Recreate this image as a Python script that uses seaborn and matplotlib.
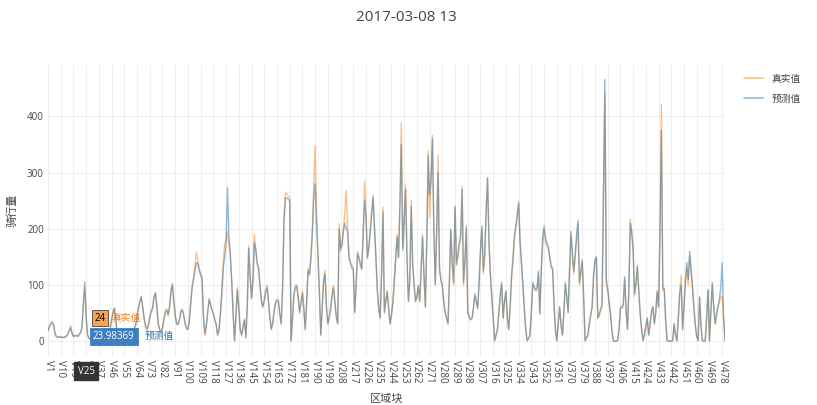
import matplotlib
matplotlib.use("Agg")
import matplotlib.pyplot as plt
import seaborn as sns
import pandas as pd

# values, one per region V1..V480
true_vals = [
    20, 28, 33, 35, 30, 12, 8, 6, 9, 7,
    8, 6, 7, 10, 12, 20, 28, 15, 8, 9,
    10, 8, 12, 15, 24, 60, 95, 40, 10, 5,
    3, 0, 0, 2, 5, 0, 0, 8, 15, 6,
    0, 0, 3, 10, 25, 40, 55, 60, 35, 10,
    5, 0, 0, 12, 18, 10, 4, 0, 0, 6,
    15, 25, 30, 45, 60, 72, 78, 60, 40, 25,
    20, 30, 45, 55, 60, 80, 87, 60, 30, 20,
    15, 25, 40, 55, 58, 45, 60, 90, 103, 70,
    45, 30, 30, 40, 55, 58, 45, 30, 22, 20,
    35, 70, 100, 114, 135, 158, 145, 130, 120, 114,
    40, 10, 25, 50, 76, 65, 55, 50, 40, 30,
    10, 20, 50, 90, 140, 174, 180, 195, 170, 160,
    110, 50, 0, 45, 96, 60, 20, 10, 25, 40,
    5, 60, 170, 120, 75, 110, 190, 160, 140, 130,
    100, 70, 60, 75, 90, 100, 70, 40, 20, 35,
    55, 70, 75, 75, 50, 30, 100, 220, 265, 262,
    258, 255, 0, 40, 85, 100, 100, 80, 50, 70,
    90, 60, 20, 70, 130, 120, 150, 200, 280, 347,
    230, 160, 90, 10, 60, 110, 126, 60, 30, 45,
    60, 85, 100, 70, 45, 30, 209, 160, 175, 200,
    230, 268, 200, 150, 140, 135, 130, 50, 100, 160,
    150, 140, 130, 200, 285, 230, 150, 170, 200, 230,
    260, 200, 150, 90, 60, 40, 120, 238, 50, 70,
    90, 60, 30, 45, 70, 110, 150, 190, 150, 250,
    388, 160, 220, 280, 150, 70, 110, 250, 140, 100,
    70, 80, 100, 70, 130, 190, 120, 60, 180, 338,
    220, 290, 366, 200, 100, 200, 330, 130, 110, 100,
    70, 50, 40, 30, 100, 196, 140, 100, 238, 140,
    150, 170, 180, 276, 100, 140, 200, 50, 45, 40,
    40, 60, 80, 70, 60, 100, 160, 200, 120, 150,
    230, 291, 180, 120, 80, 40, 0, 10, 20, 50,
    80, 100, 40, 70, 90, 40, 20, 60, 110, 140,
    178, 200, 220, 249, 180, 140, 100, 60, 20, 0,
    5, 10, 50, 100, 95, 90, 90, 120, 50, 120,
    170, 200, 185, 175, 170, 150, 135, 130, 70, 20,
    0, 30, 60, 30, 10, 50, 100, 80, 50, 120,
    190, 150, 120, 150, 180, 209, 100, 120, 140, 80,
    0, 5, 10, 30, 45, 60, 120, 140, 149, 40,
    45, 55, 60, 250, 440, 100, 90, 70, 50, 20,
    0, 0, 0, 0, 20, 60, 60, 60, 110, 60,
    20, 90, 217, 190, 170, 80, 100, 130, 90, 50,
    20, 0, 10, 25, 40, 10, 30, 50, 60, 30,
    50, 90, 60, 200, 421, 90, 95, 40, 0, 0,
    0, 0, 0, 30, 10, 0, 40, 90, 117, 20,
    60, 100, 130, 100, 152, 130, 100, 60, 30, 10,
    0, 80, 30, 0, 0, 0, 40, 90, 0, 50,
    100, 60, 30, 45, 60, 70, 80, 80, 40, 0,
]

pred_vals = [
    18, 25, 30, 33, 28, 14, 9, 7, 8, 8,
    7, 7, 8, 9, 13, 18, 24, 14, 9, 10,
    11, 9, 12, 16, 23.98369, 70, 105, 45, 12, 6,
    4, 1, 2, 3, 6, 1, 1, 9, 14, 7,
    2, 1, 4, 11, 22, 38, 50, 58, 38, 12,
    6, 2, 2, 10, 16, 11, 5, 1, 2, 7,
    14, 22, 28, 42, 58, 70, 80, 62, 42, 28,
    22, 28, 42, 52, 58, 78, 85, 62, 32, 22,
    17, 24, 38, 50, 55, 48, 62, 88, 100, 72,
    48, 32, 30, 38, 52, 55, 48, 32, 24, 22,
    38, 68, 95, 110, 125, 140, 138, 125, 118, 110,
    45, 14, 28, 52, 74, 66, 56, 48, 38, 30,
    12, 22, 48, 85, 130, 150, 175, 273, 190, 150,
    105, 48, 2, 48, 92, 58, 22, 12, 26, 38,
    8, 64, 165, 115, 78, 105, 175, 165, 138, 128,
    98, 72, 62, 72, 88, 95, 72, 42, 22, 32,
    52, 68, 72, 70, 48, 32, 95, 215, 255, 255,
    252, 250, 2, 42, 82, 95, 98, 78, 52, 68,
    85, 58, 22, 68, 125, 118, 145, 190, 250, 280,
    210, 150, 88, 12, 58, 105, 120, 62, 32, 42,
    58, 80, 95, 68, 42, 32, 200, 165, 170, 195,
    210, 200, 195, 148, 138, 130, 128, 52, 98, 155,
    148, 135, 128, 190, 250, 220, 148, 165, 195, 225,
    255, 205, 148, 92, 58, 42, 115, 230, 52, 72,
    88, 58, 32, 48, 68, 105, 145, 185, 148, 240,
    350, 165, 215, 270, 148, 72, 108, 240, 138, 102,
    72, 78, 98, 72, 128, 185, 118, 62, 175, 330,
    260, 285, 360, 195, 102, 195, 300, 128, 108, 98,
    72, 52, 42, 32, 110, 200, 138, 105, 240, 135,
    155, 175, 190, 270, 105, 145, 205, 52, 42, 38,
    42, 58, 85, 72, 58, 105, 165, 205, 125, 155,
    235, 290, 175, 118, 78, 42, 2, 12, 22, 52,
    85, 105, 42, 72, 88, 42, 22, 65, 120, 150,
    190, 205, 225, 245, 175, 138, 98, 58, 22, 2,
    6, 12, 55, 105, 98, 92, 95, 125, 48, 130,
    185, 205, 180, 170, 165, 148, 132, 128, 68, 22,
    2, 32, 62, 28, 12, 55, 105, 78, 52, 130,
    195, 160, 125, 155, 190, 215, 105, 125, 145, 78,
    2, 8, 12, 32, 48, 62, 115, 145, 150, 42,
    48, 58, 65, 260, 465, 110, 95, 68, 48, 18,
    2, 0, 1, 2, 22, 58, 62, 65, 115, 55,
    22, 95, 210, 195, 160, 85, 105, 135, 88, 48,
    22, 2, 12, 28, 42, 12, 32, 55, 62, 32,
    52, 88, 62, 190, 375, 95, 92, 38, 2, 1,
    0, 1, 2, 32, 12, 2, 42, 85, 100, 22,
    65, 110, 140, 110, 160, 125, 95, 58, 28, 8,
    2, 78, 28, 2, 1, 2, 42, 92, 2, 52,
    105, 62, 32, 48, 62, 75, 95, 140, 45, 1,
]

regions = [f"V{i + 1}" for i in range(len(true_vals))]
series_names = ["真实值", "预测值"]
hover_idx = 24  # V25

df = pd.DataFrame({
    "pos": list(range(len(regions))) * 2,
    "value": true_vals + pred_vals,
    "series": [series_names[0]] * len(regions) + [series_names[1]] * len(regions),
})

sns.set_theme(style="whitegrid")
plt.rcParams["font.family"] = ["Open Sans", "Noto Sans CJK SC", "DejaVu Sans"]

fig = plt.figure(figsize=(8.17, 4.05), dpi=100)
ax = fig.add_axes([48 / 817, 49 / 405, 677 / 817, 291 / 405])

palette = {"真实值": "#ff7f0e", "预测值": "#1f77b4"}
sns.lineplot(data=df, x="pos", y="value", hue="series", palette=palette,
             linewidth=1.0, alpha=0.5, ax=ax)

ax.set_xlim(0, len(regions) - 1)
ax.set_ylim(-26, 491)
tick_pos = list(range(0, len(regions), 9))
ax.set_xticks(tick_pos)
ax.set_xticklabels([regions[i] for i in tick_pos], rotation=-90, fontsize=7, color="#444")
ax.set_yticks([0, 100, 200, 300, 400])
ax.set_yticklabels(["0", "100", "200", "300", "400"], fontsize=7, color="#444")
ax.tick_params(axis="both", length=0, pad=3)
ax.grid(True, color="#eeeeee", linewidth=0.8)
for s in ax.spines.values():
    s.set_visible(False)

ax.set_xlabel("区域块", fontsize=8, color="#444")
ax.xaxis.set_label_coords(0.5, -0.148)
ax.xaxis.label.set_va("center")
ax.set_ylabel("骑行量", fontsize=8, color="#444", labelpad=6)
fig.suptitle("2017-03-08 13", x=0.498, y=0.975, fontsize=11, color="#444")

leg = ax.legend(loc="upper left", bbox_to_anchor=(1.015, 1.0), frameon=False,
                fontsize=7, handlelength=2.0, labelspacing=0.9)
for line in leg.get_lines():
    line.set_linewidth(1.2)
for t in leg.get_texts():
    t.set_color("#444")

# hover labels at V25
ax.annotate(f"{true_vals[hover_idx]:g}", xy=(hover_idx, true_vals[hover_idx]),
            xytext=(13, 7), textcoords="offset points", fontsize=7, color="black",
            ha="center", va="center",
            bbox=dict(boxstyle="square,pad=0.25", fc="#f7a34f", ec="#444", lw=0.6))
ax.annotate(series_names[0], xy=(hover_idx, true_vals[hover_idx]),
            xytext=(21, 7), textcoords="offset points", fontsize=7, color="#ff7f0e",
            ha="left", va="center")
ax.annotate(f"{pred_vals[hover_idx]:.5f}", xy=(hover_idx, pred_vals[hover_idx]),
            xytext=(8, -6), textcoords="offset points", fontsize=7, color="white",
            ha="left", va="center",
            bbox=dict(boxstyle="square,pad=0.3", fc="#3d7fc1", ec="#3d7fc1", lw=0.6))
ax.annotate(series_names[1], xy=(hover_idx, pred_vals[hover_idx]),
            xytext=(45, -6), textcoords="offset points", fontsize=7, color="#1f77b4",
            ha="left", va="center")
ax.annotate(regions[hover_idx], xy=(hover_idx, 0), xycoords=("data", "axes fraction"),
            xytext=(3, -11), textcoords="offset points", fontsize=7, color="white",
            ha="center", va="center", zorder=10,
            bbox=dict(boxstyle="square,pad=0.35", fc="#333333", ec="#333333"))

fig.savefig("out.png", dpi=100)
